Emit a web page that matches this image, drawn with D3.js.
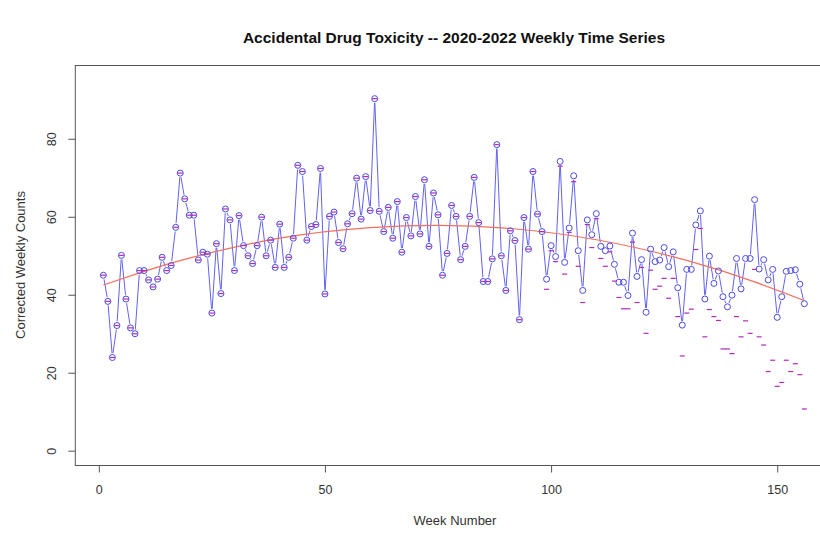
<!DOCTYPE html>
<html>
<head>
<meta charset="utf-8">
<script src="https://cdn.jsdelivr.net/npm/d3@7"></script>
<style>
  body { margin: 0; background: #fff; }
  svg { font-family: "Liberation Sans", Arial, sans-serif; }
</style>
</head>
<body>
<svg id="chart" width="820" height="538"></svg>
<script>
// week numbers 1..156
const weeks = d3.range(1, 157);

// corrected weekly counts (blue circles + line)
const corrected = [
  45, 38.3, 23.9, 32.1, 50.1, 38.9, 31.5, 30.0, 46.2, 46.2,
  43.8, 42, 44, 49.6, 46.2, 47.5, 57.3, 71.2, 64.6, 60.4,
  60.4, 48.9, 50.9, 50.4, 35.3, 53.1, 40.3, 62, 59.2, 46.2,
  60.3, 52.6, 50, 48, 52.6, 59.9, 50, 54, 47, 58.1,
  47, 49.6, 54.5, 73.2, 71.6, 54, 57.5, 58, 72.4, 40.2,
  60.1, 61.2, 53.4, 51.8, 58.2, 60.8, 69.9, 59.4, 70.3, 61.6,
  90.3, 61.4, 56.2, 62.4, 54.5, 63.9, 50.9, 59.8, 55.1, 65.2,
  55.6, 69.5, 52.4, 66.1, 60.5, 45, 50.6, 62.9, 60.1, 49,
  52.4, 60.1, 70.1, 58.5, 43.4, 43.4, 49.2, 78.5, 50, 41.1,
  56.4, 53.9, 33.6, 59.8, 51.7, 71.6, 60.7, 56.2, 44, 52.6,
  49.8, 74.2, 48.3, 57.1, 70.5, 51.3, 41.1, 59.2, 55.4, 60.8,
  52.4, 51.3, 52.5, 47.8, 43.2, 43.2, 39.8, 55.8, 44.7, 49,
  35.5, 51.7, 48.5, 48.9, 52.1, 47.2, 51, 41.8, 32.2, 46.5,
  46.5, 57.9, 61.5, 38.9, 49.9, 42.9, 46.1, 39.5, 36.9, 39.9,
  49.3, 41.5, 49.3, 49.3, 64.4, 46.6, 49, 43.8, 46.5, 34.2,
  39.5, 46, 46.2, 46.4, 42.7, 37.7
];

// raw (uncorrected) weekly counts (magenta dashes)
const raw = [
  45, 38.3, 23.9, 32.1, 50.1, 38.9, 31.5, 30.0, 46.2, 46.2,
  43.8, 42, 44, 49.6, 46.2, 47.5, 57.3, 71.2, 64.6, 60.4,
  60.4, 48.9, 50.9, 50.4, 35.3, 53.1, 40.3, 62, 59.2, 46.2,
  60.3, 52.6, 50, 48, 52.6, 59.9, 50, 54, 47, 58.1,
  47, 49.6, 54.5, 73.2, 71.6, 54, 57.5, 58, 72.4, 40.2,
  60.1, 61.2, 53.4, 51.8, 58.2, 60.8, 69.9, 59.4, 70.3, 61.6,
  90.3, 61.4, 56.2, 62.4, 54.5, 63.9, 50.9, 59.8, 55.1, 65.2,
  55.6, 69.5, 52.4, 66.1, 60.5, 45, 50.6, 62.9, 60.1, 49,
  52.4, 60.1, 70.1, 58.5, 43.4, 43.4, 49.2, 78.5, 50, 41.1,
  56.4, 53.9, 33.6, 59.8, 51.7, 71.6, 60.7, 56.2, 41.4, 51.3,
  48.5, 73, 45.3, 56, 69, 47.3, 38, 58, 52.1, 59.5,
  49.3, 47.3, 51, 43.5, 39.3, 36.4, 36.4, 53.5, 38, 47,
  30.1, 46.3, 41.4, 42.2, 44.2, 39.1, 44.2, 34.4, 24.3, 35.3,
  36.3, 51.6, 57, 29.2, 36.2, 34.4, 33.4, 26.1, 26.1, 24.9,
  34.4, 29.2, 33.3, 30.1, 46.5, 29.2, 27.1, 20.3, 23.2, 16.5,
  17.5, 23.2, 20.3, 22.3, 19.5, 10.7
];

// fitted trend (red curve), read at a few weeks
const fitWeeks = [1, 10, 20, 40, 60, 75, 90, 110, 130, 145, 156];
const fitValues = [42.5, 46.0, 49.4, 54.5, 57.2, 57.8, 57.1, 54.1, 48.8, 43.3, 38.5];

const xTicks = [0, 50, 100, 150];
const yTicks = [0, 20, 40, 60, 80];

let svg = d3.select("#chart");

// plot region (right side runs past the picture edge, like the reference)
let x = d3.scaleLinear().domain([-5.2, 162.2]).range([75.3, 832.4]);
let y = d3.scaleLinear().domain([-3.8, 98.8]).range([465.5, 65.5]);

let plot = svg.append("g");

// red fitted curve
let fitLine = d3.line()
  .x((d, i) => x(fitWeeks[i]))
  .y(d => y(d))
  .curve(d3.curveNatural);

// blue line joining the corrected counts
let blueLine = d3.line()
  .x((d, i) => x(weeks[i]))
  .y(d => y(d));

plot.append("path")
  .attr("d", blueLine(corrected))
  .attr("fill", "none")
  .attr("stroke", "#6262f2")
  .attr("stroke-width", 1);

// gaps around the points, like type = "b"
plot.selectAll("circle.gap")
  .data(corrected)
  .join("circle")
  .attr("class", "gap")
  .attr("cx", (d, i) => x(weeks[i]))
  .attr("cy", d => y(d))
  .attr("r", 4.2)
  .attr("fill", "#fff");

plot.append("path")
  .attr("d", fitLine(fitValues))
  .attr("fill", "none")
  .attr("stroke", "#f4705e")
  .attr("stroke-width", 1.2);

plot.selectAll("circle.pt")
  .data(corrected)
  .join("circle")
  .attr("class", "pt")
  .attr("cx", (d, i) => x(weeks[i]))
  .attr("cy", d => y(d))
  .attr("r", 3)
  .attr("fill", "none")
  .attr("stroke", "#4a4ae6")
  .attr("stroke-width", 1);

// magenta dashes for raw counts
plot.selectAll("line.raw")
  .data(raw)
  .join("line")
  .attr("class", "raw")
  .attr("x1", (d, i) => x(weeks[i]) - 2.5)
  .attr("x2", (d, i) => x(weeks[i]) + 2.5)
  .attr("y1", d => y(d))
  .attr("y2", d => y(d))
  .attr("stroke", "#b02cb8")
  .attr("stroke-width", 1.2);

// box
svg.append("rect")
  .attr("x", x.range()[0])
  .attr("y", y.range()[1])
  .attr("width", x.range()[1] - x.range()[0])
  .attr("height", y.range()[0] - y.range()[1])
  .attr("fill", "none")
  .attr("stroke", "#555")
  .attr("stroke-width", 1);

// x axis
let xAxis = svg.append("g")
  .attr("transform", `translate(0,${y.range()[0]})`)
  .call(d3.axisBottom(x).tickValues(xTicks).tickSize(7).tickPadding(13));
xAxis.select(".domain").remove();
xAxis.selectAll("line").attr("stroke", "#555");
xAxis.selectAll("text")
  .style("font-size", "12.5px")
  .attr("fill", "#333")
  .style("font-family", "Liberation Sans, Arial, sans-serif");

// y axis, labels turned like R's default
let yAxis = svg.append("g")
  .attr("transform", `translate(${x.range()[0]},0)`)
  .call(d3.axisLeft(y).tickValues(yTicks).tickSize(7).tickFormat(d3.format("d")));
yAxis.select(".domain").remove();
yAxis.selectAll("line").attr("stroke", "#555");
yAxis.selectAll("text")
  .attr("x", null)
  .attr("dy", null)
  .attr("transform", "translate(-19,0) rotate(-90)")
  .attr("text-anchor", "middle")
  .attr("fill", "#333")
  .style("font-size", "12.5px")
  .style("font-family", "Liberation Sans, Arial, sans-serif");

// title
svg.append("text")
  .text("Accidental Drug Toxicity -- 2020-2022 Weekly Time Series")
  .attr("x", 454)
  .attr("y", 43)
  .attr("text-anchor", "middle")
  .style("font-size", "15.5px")
  .style("font-weight", "bold")
  .attr("fill", "#111");

// axis titles
svg.append("text")
  .text("Week Number")
  .attr("x", 455)
  .attr("y", 525)
  .attr("text-anchor", "middle")
  .style("font-size", "13px")
  .attr("fill", "#333");

svg.append("text")
  .text("Corrected Weekly Counts")
  .attr("transform", "translate(25,265) rotate(-90)")
  .attr("text-anchor", "middle")
  .style("font-size", "13px")
  .attr("fill", "#333");
</script>
</body>
</html>
